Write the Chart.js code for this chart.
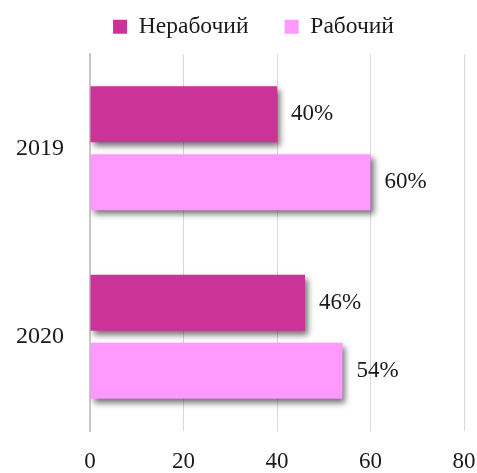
<!DOCTYPE html>
<html>
<head>
<meta charset="utf-8">
<script src="https://cdn.jsdelivr.net/npm/chart.js@4"></script>
<style>
    body { margin: 0; background: #fff; }
    #wrap { width: 477px; height: 473px; }
</style>
</head>
<body>
<div id="wrap"><canvas id="myChart" width="477" height="473"></canvas></div>
<script>
// Data chart
const years = ['2019', '2020'];
const nerabochiy = [40, 46];
const rabochiy = [60, 54];
const xTicks = [0, 20, 40, 60, 80];

const serif = "'Liberation Serif', 'Times New Roman', serif";

// tinggi legend dibuat tetap, posisinya digeser sedikit ke kanan
const legendFix = {
    id: 'legendFix',
    beforeInit(chart) {
        const fit = chart.legend.fit;
        chart.legend.fit = function () {
            fit.call(this);
            this.height = 54;
        };
    },
    afterLayout(chart) {
        chart.legend.left += 15;
        chart.legend.right += 15;
    }
};

// bayangan di bawah batang
const shadowPlugin = {
    id: 'barShadow',
    beforeDatasetsDraw(chart) {
        const ctx = chart.ctx;
        ctx.save();
        ctx.shadowColor = 'rgba(0, 0, 0, 0.55)';
        ctx.shadowBlur = 6;
        ctx.shadowOffsetX = 3;
        ctx.shadowOffsetY = 4;
    },
    afterDatasetsDraw(chart) {
        chart.ctx.restore();
    }
};

// label persen di ujung batang
const labelPlugin = {
    id: 'barLabels',
    afterDraw(chart) {
        const ctx = chart.ctx;
        ctx.save();
        ctx.font = '23px ' + serif;
        ctx.fillStyle = '#1a1a1a';
        ctx.textAlign = 'left';
        ctx.textBaseline = 'middle';
        chart.data.datasets.forEach((ds, i) => {
            chart.getDatasetMeta(i).data.forEach((bar, j) => {
                ctx.fillText(ds.data[j] + '%', bar.x + 14, bar.y);
            });
        });
        ctx.restore();
    }
};

function chart() {
    const ctx = document.getElementById('myChart').getContext('2d');
    new Chart(ctx, {
        type: 'bar',
        data: {
            labels: years,
            datasets: [
                {
                    label: 'Нерабочий',
                    data: nerabochiy,
                    backgroundColor: '#CC3399',
                    categoryPercentage: 0.7215,
                    barPercentage: 0.8235
                },
                {
                    label: 'Рабочий',
                    data: rabochiy,
                    backgroundColor: '#FF99FF',
                    categoryPercentage: 0.7215,
                    barPercentage: 0.8235
                }
            ]
        },
        options: {
            indexAxis: 'y',
            responsive: false,
            animation: false,
            layout: { padding: 0 },
            scales: {
                x: {
                    min: 0,
                    max: 80,
                    afterBuildTicks(axis) {
                        axis.ticks = xTicks.map(v => ({ value: v }));
                    },
                    afterFit(scale) {
                        scale.height = 42;
                        scale.paddingLeft = 0;
                        scale.paddingRight = 13;
                    },
                    grid: { color: '#d9d9d9', lineWidth: 1, drawTicks: false },
                    border: { display: false },
                    ticks: {
                        color: '#1a1a1a',
                        padding: 17,
                        font: { family: serif, size: 23 }
                    }
                },
                y: {
                    afterFit(scale) {
                        scale.width = 90;
                    },
                    grid: { display: false, drawTicks: false },
                    border: { color: '#c8c8c8', width: 2 },
                    ticks: {
                        color: '#1a1a1a',
                        padding: 26,
                        font: { family: serif, size: 24 }
                    }
                }
            },
            plugins: {
                legend: {
                    position: 'top',
                    labels: {
                        color: '#1a1a1a',
                        boxWidth: 14,
                        boxHeight: 14,
                        padding: 15,
                        font: { family: serif, size: 23.5 },
                        generateLabels(chart) {
                            const items = Chart.defaults.plugins.legend.labels.generateLabels(chart);
                            items[0].text += '\u2002\u2009\u2009';
                            return items;
                        }
                    }
                },
                tooltip: { enabled: false }
            }
        },
        plugins: [legendFix, shadowPlugin, labelPlugin]
    });
}

window.addEventListener('load', function () {
    chart();
});
</script>
</body>
</html>
